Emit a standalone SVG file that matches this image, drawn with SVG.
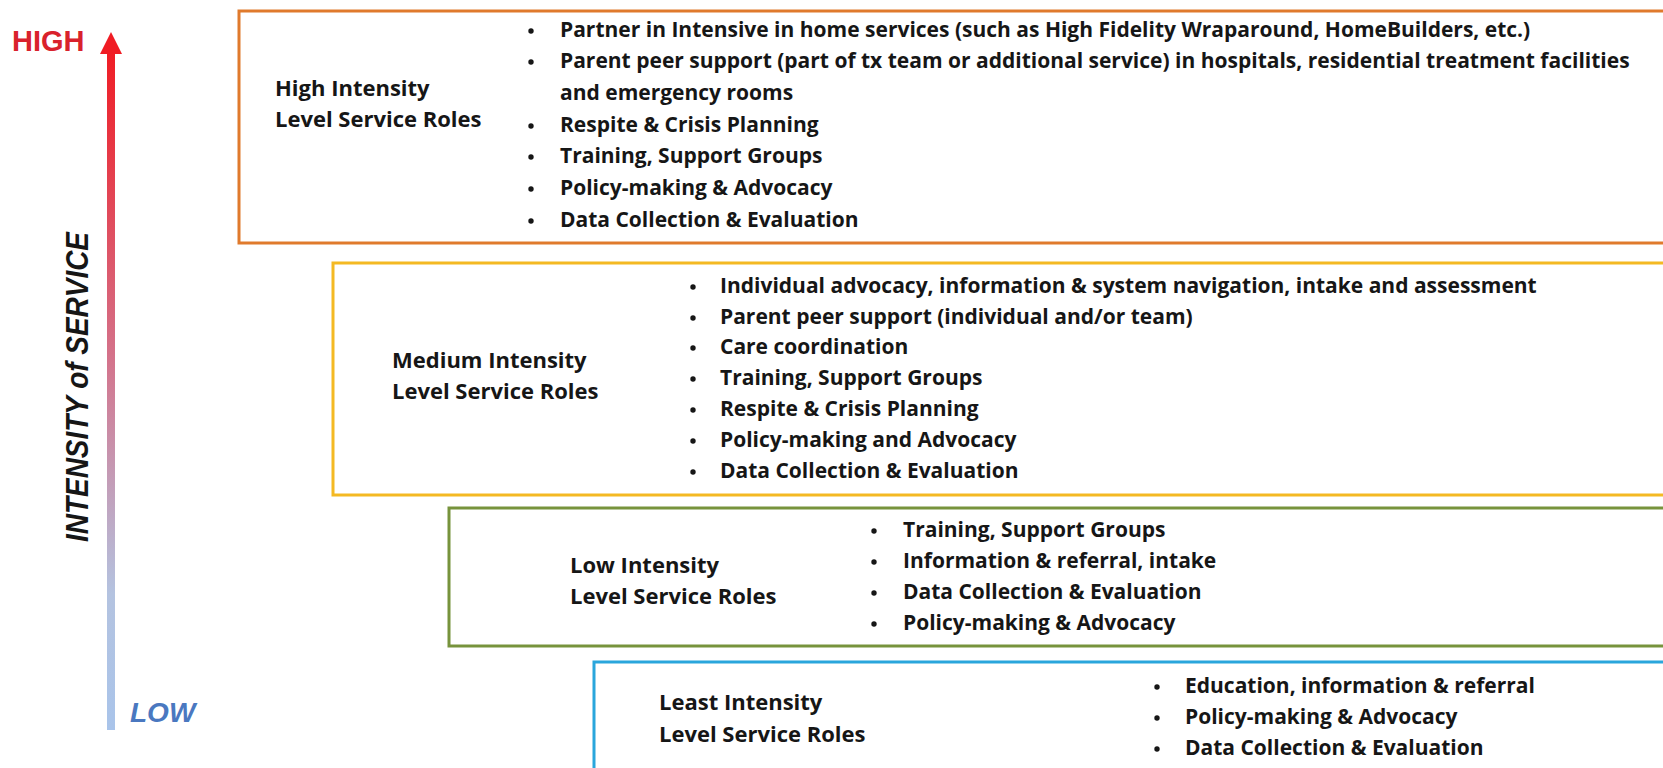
<svg xmlns="http://www.w3.org/2000/svg" width="1663" height="768" viewBox="0 0 1663 768">
  <defs>
    <linearGradient id="axisGrad" x1="0" y1="0" x2="0" y2="1">
      <stop offset="0" stop-color="#f01c24"/>
      <stop offset="0.45" stop-color="#d4728a"/>
      <stop offset="0.8" stop-color="#b4c3e0"/>
      <stop offset="1" stop-color="#a9c4ea"/>
    </linearGradient>
    <style>
      .box { fill: #ffffff; stroke-width: 3; }
      .lbl { font-family: "Open Sans", Lato, sans-serif; font-weight: 700; font-size: 22px; fill: #161616; }
      .itm { font-family: "Open Sans", Lato, sans-serif; font-weight: 700; font-size: 21px; fill: #161616; }
      .dot { fill: #161616; }
    </style>
  </defs>
  <rect width="1663" height="768" fill="#ffffff"/>

  <!-- vertical intensity axis -->
  <g id="axis">
    <rect x="107" y="50" width="8" height="680" fill="url(#axisGrad)"/>
    <polygon points="111,32 100,54 122,54" fill="#f01c24"/>
    <text x="12" y="51" font-family="'Liberation Sans', Arial, sans-serif" font-weight="700" font-size="29" fill="#d9222c">HIGH</text>
    <text x="130" y="722" font-family="'Liberation Sans', Arial, sans-serif" font-weight="700" font-style="italic" font-size="28" fill="#4a78c0">LOW</text>
    <text transform="translate(88,387) rotate(-90)" text-anchor="middle" font-family="'Liberation Sans', Arial, sans-serif" font-weight="700" font-style="italic" font-size="31" fill="#161616" textLength="310" lengthAdjust="spacingAndGlyphs">INTENSITY of SERVICE</text>
  </g>

  <!-- high intensity tier -->
  <g id="high">
    <rect class="box" x="239" y="11" width="1500" height="232" stroke="#e07a2c"/>
    <text class="lbl" x="275" y="96">High Intensity</text>
    <text class="lbl" x="275" y="127">Level Service Roles</text>
    <g class="dot">
      <circle cx="531" cy="31" r="2.7"/>
      <circle cx="531" cy="62" r="2.7"/>
      <circle cx="531" cy="126" r="2.7"/>
      <circle cx="531" cy="157" r="2.7"/>
      <circle cx="531" cy="189" r="2.7"/>
      <circle cx="531" cy="221" r="2.7"/>
    </g>
    <text class="itm" x="560" y="37">Partner in Intensive in home services (such as High Fidelity Wraparound, HomeBuilders, etc.)</text>
    <text class="itm" x="560" y="68">Parent peer support (part of tx team or additional service) in hospitals, residential treatment facilities</text>
    <text class="itm" x="560" y="100">and emergency rooms</text>
    <text class="itm" x="560" y="132">Respite &amp; Crisis Planning</text>
    <text class="itm" x="560" y="163">Training, Support Groups</text>
    <text class="itm" x="560" y="195">Policy-making &amp; Advocacy</text>
    <text class="itm" x="560" y="227">Data Collection &amp; Evaluation</text>
  </g>

  <!-- medium intensity tier -->
  <g id="medium">
    <rect class="box" x="333" y="263" width="1400" height="232" stroke="#f4b923"/>
    <text class="lbl" x="392" y="368">Medium Intensity</text>
    <text class="lbl" x="392" y="399">Level Service Roles</text>
    <g class="dot">
      <circle cx="693" cy="287" r="2.7"/>
      <circle cx="693" cy="318" r="2.7"/>
      <circle cx="693" cy="348" r="2.7"/>
      <circle cx="693" cy="379" r="2.7"/>
      <circle cx="693" cy="410" r="2.7"/>
      <circle cx="693" cy="441" r="2.7"/>
      <circle cx="693" cy="472" r="2.7"/>
    </g>
    <text class="itm" x="720" y="293">Individual advocacy, information &amp; system navigation, intake and assessment</text>
    <text class="itm" x="720" y="324">Parent peer support (individual and/or team)</text>
    <text class="itm" x="720" y="354">Care coordination</text>
    <text class="itm" x="720" y="385">Training, Support Groups</text>
    <text class="itm" x="720" y="416">Respite &amp; Crisis Planning</text>
    <text class="itm" x="720" y="447">Policy-making and Advocacy</text>
    <text class="itm" x="720" y="478">Data Collection &amp; Evaluation</text>
  </g>

  <!-- low intensity tier -->
  <g id="low">
    <rect class="box" x="449" y="508" width="1300" height="138" stroke="#77933c"/>
    <text class="lbl" x="570" y="573">Low Intensity</text>
    <text class="lbl" x="570" y="604">Level Service Roles</text>
    <g class="dot">
      <circle cx="874" cy="531" r="2.7"/>
      <circle cx="874" cy="562" r="2.7"/>
      <circle cx="874" cy="593" r="2.7"/>
      <circle cx="874" cy="624" r="2.7"/>
    </g>
    <text class="itm" x="903" y="537">Training, Support Groups</text>
    <text class="itm" x="903" y="568">Information &amp; referral, intake</text>
    <text class="itm" x="903" y="599">Data Collection &amp; Evaluation</text>
    <text class="itm" x="903" y="630">Policy-making &amp; Advocacy</text>
  </g>

  <!-- least intensity tier -->
  <g id="least">
    <rect class="box" x="594" y="662" width="1200" height="140" stroke="#2aa6dc"/>
    <text class="lbl" x="659" y="710">Least Intensity</text>
    <text class="lbl" x="659" y="742">Level Service Roles</text>
    <g class="dot">
      <circle cx="1157" cy="687" r="2.7"/>
      <circle cx="1157" cy="718" r="2.7"/>
      <circle cx="1157" cy="749" r="2.7"/>
    </g>
    <text class="itm" x="1185" y="693">Education, information &amp; referral</text>
    <text class="itm" x="1185" y="724">Policy-making &amp; Advocacy</text>
    <text class="itm" x="1185" y="755">Data Collection &amp; Evaluation</text>
  </g>

  <!-- no connectors between tiers -->
  <g id="connectors"/>
</svg>
